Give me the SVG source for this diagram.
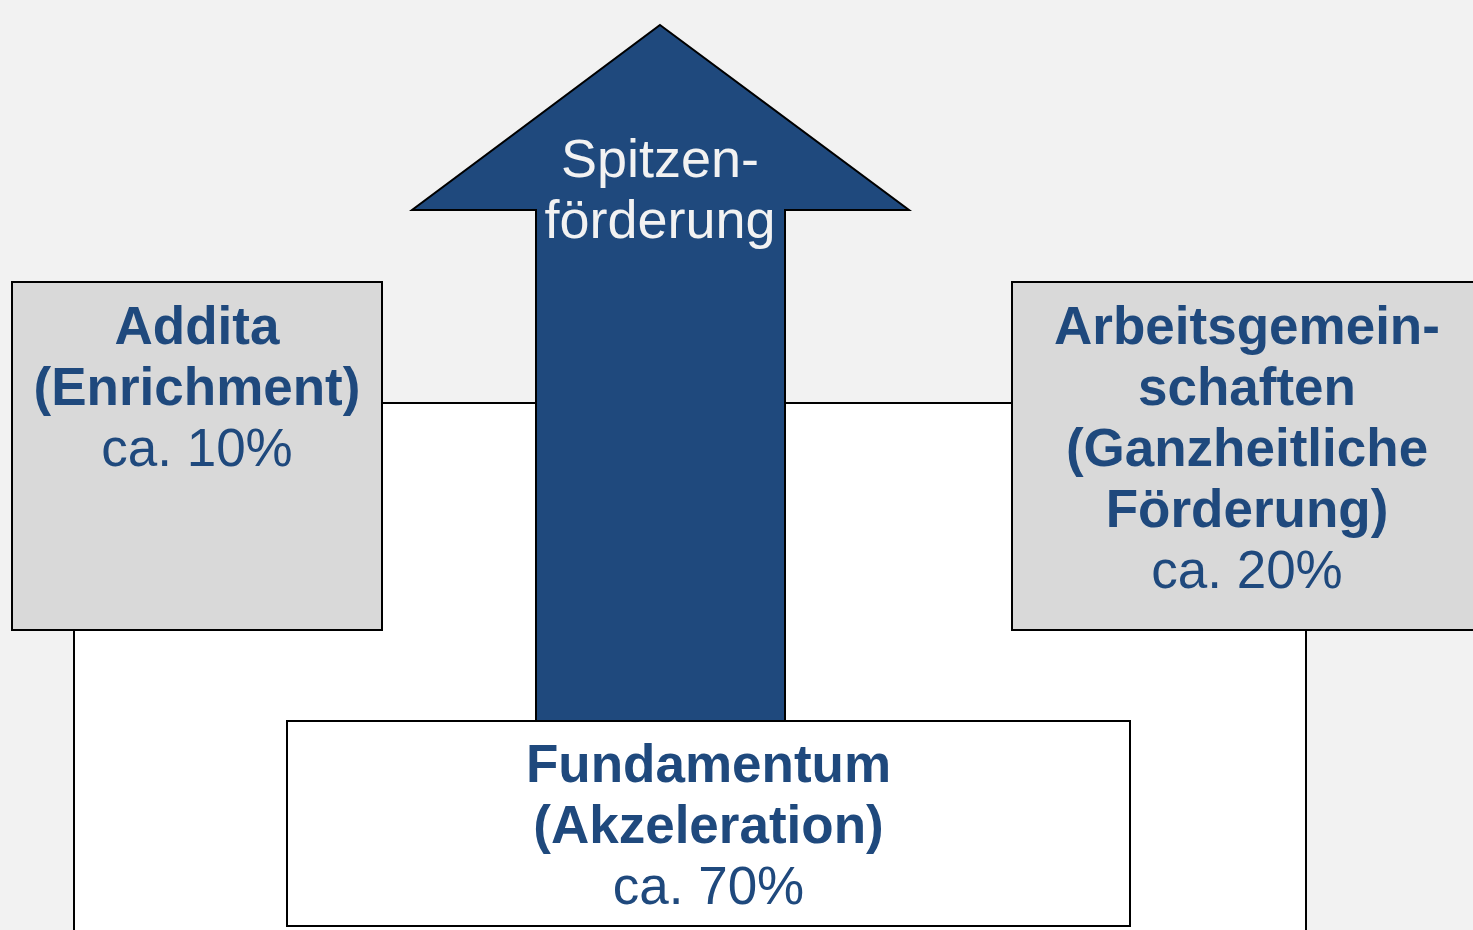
<svg xmlns="http://www.w3.org/2000/svg" width="1473" height="930" viewBox="0 0 1473 930">
<style>
.box{stroke:#000;stroke-width:2}
.gray{fill:#d9d9d9}
.t{font-family:"Liberation Sans",Arial,sans-serif;font-size:53px;fill:#1f497d;text-anchor:middle}
.b{font-weight:bold}
.w{fill:#f2f2f2;font-size:54px}
</style>
<rect width="1473" height="930" fill="#f2f2f2"/>
<g id="frame">
<rect class="box" x="74" y="403" width="1232" height="560" fill="#fff"/>
</g>
<g id="arrow">
<polygon class="box" points="660,25 909,210 785,210 785,721 536,721 536,210 412,210" fill="#1f497d"/>
<text class="t w" x="660" y="177">Spitzen-</text>
<text class="t w" x="660" y="238">förderung</text>
</g>
<g id="addita">
<rect class="box gray" x="12" y="282" width="370" height="348"/>
<text class="t b" x="197" y="344">Addita</text>
<text class="t b" x="197" y="405">(Enrichment)</text>
<text class="t" x="197" y="466">ca. 10%</text>
</g>
<g id="ag">
<rect class="box gray" x="1012" y="282" width="480" height="348"/>
<text class="t b" x="1247" y="344">Arbeitsgemein-</text>
<text class="t b" x="1247" y="405">schaften</text>
<text class="t b" x="1247" y="466">(Ganzheitliche</text>
<text class="t b" x="1247" y="527">Förderung)</text>
<text class="t" x="1247" y="588">ca. 20%</text>
</g>
<g id="fundamentum">
<rect class="box" x="287" y="721" width="843" height="205" fill="#fff"/>
<text class="t b" x="708.5" y="782">Fundamentum</text>
<text class="t b" x="708.5" y="843">(Akzeleration)</text>
<text class="t" x="708.5" y="904">ca. 70%</text>
</g>
<g id="connectors"/>
</svg>
